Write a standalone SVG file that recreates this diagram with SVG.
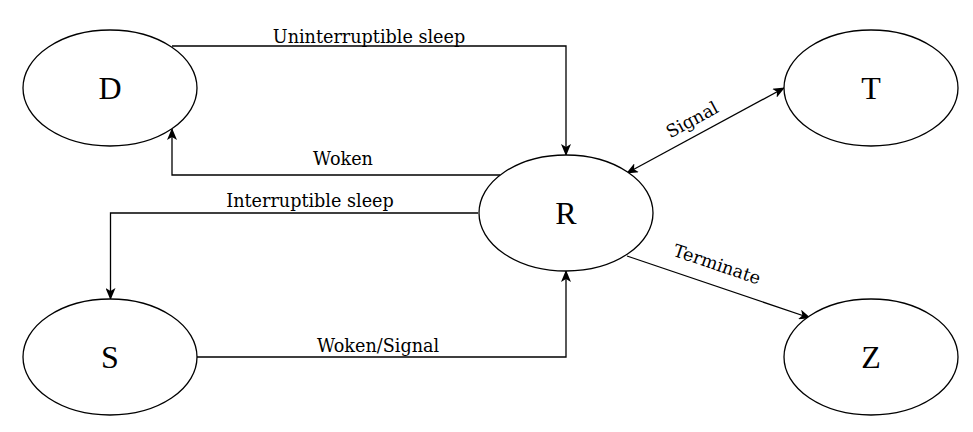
<svg xmlns="http://www.w3.org/2000/svg" width="973" height="432" viewBox="0 0 973 432">
<style>
.node ellipse{fill:#fff;stroke:#000;stroke-width:1.3}
.node text{font-family:"Liberation Serif",serif;font-size:32px;text-anchor:middle;fill:#000}
.edge{fill:none;stroke:#000;stroke-width:1.3}
.lbl{font-family:"DejaVu Serif",serif;font-size:17.6px;text-anchor:middle;fill:#000}
</style>
<defs>
<marker id="ah" viewBox="0 0 12 10" refX="11" refY="5" markerWidth="12" markerHeight="10" markerUnits="userSpaceOnUse" orient="auto-start-reverse">
<path d="M0,0 L12,5 L0,10 L3,5 Z" fill="#000"/>
</marker>
</defs>
<rect width="973" height="432" fill="#fff"/>
<g id="connectors">
<path class="edge" d="M172,46 H566 V155" marker-end="url(#ah)"/>
<path class="edge" d="M500,175 H172 V129" marker-end="url(#ah)"/>
<path class="edge" d="M478,213 H110.5 V299" marker-end="url(#ah)"/>
<path class="edge" d="M197,357 H566 V271" marker-end="url(#ah)"/>
<path class="edge" d="M627,173 L784,88" marker-start="url(#ah)" marker-end="url(#ah)"/>
<path class="edge" d="M627,256 L810,318" marker-end="url(#ah)"/>
<text class="lbl" x="369" y="43">Uninterruptible sleep</text>
<text class="lbl" x="343" y="165">Woken</text>
<text class="lbl" x="310" y="207">Interruptible sleep</text>
<text class="lbl" x="378" y="352">Woken/Signal</text>
<text class="lbl" transform="translate(695,125) rotate(-28.4)">Signal</text>
<text class="lbl" transform="translate(715,270) rotate(18.7)">Terminate</text>
</g>
<g id="D" class="node"><ellipse cx="110" cy="88" rx="87" ry="58"/><text x="110" y="99">D</text></g>
<g id="T" class="node"><ellipse cx="871" cy="88" rx="87" ry="58"/><text x="871" y="99">T</text></g>
<g id="R" class="node"><ellipse cx="566" cy="213" rx="87" ry="58"/><text x="566" y="224">R</text></g>
<g id="S" class="node"><ellipse cx="110" cy="357" rx="87" ry="58"/><text x="110" y="368">S</text></g>
<g id="Z" class="node"><ellipse cx="871" cy="357" rx="87" ry="58"/><text x="871" y="368">Z</text></g>
</svg>
